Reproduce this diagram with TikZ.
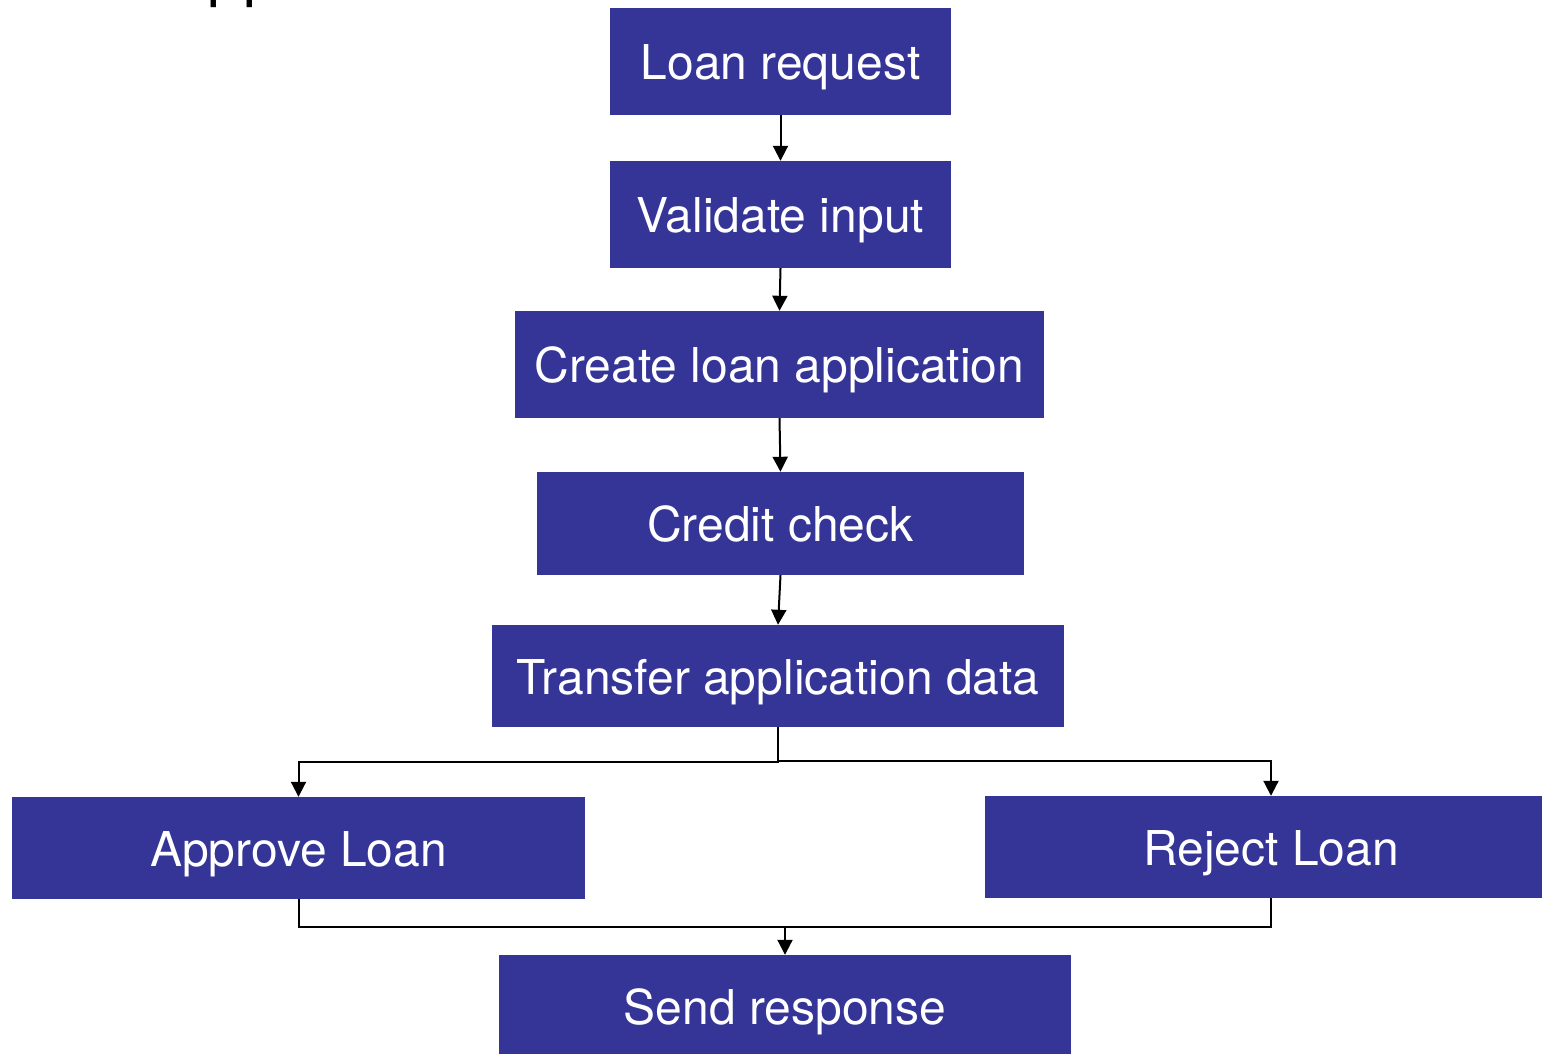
\documentclass[tikz,border=0pt]{standalone}
\usepackage{fontspec}
\setmainfont{TeX Gyre Heros}
\usetikzlibrary{arrows.meta,calc}
\definecolor{boxblue}{RGB}{53,53,152}
\tikzset{
  stepbox/.style={rectangle, fill=boxblue, draw=none, text=white, inner sep=0pt,
    font=\fontsize{48}{56}\selectfont, text height=36.5pt, text depth=0pt, align=center},
  conn/.style={line width=2pt, draw=black},
  arr/.style={conn, -{Triangle[length=15pt,width=15pt]}, shorten >=0pt}
}
\begin{document}
\begin{tikzpicture}[x=1pt,y=-1pt]
\useasboundingbox (0,0) rectangle (1542,1054);
% cut-off title at the top edge (as in the reference)
\node[anchor=base west, inner sep=0pt, font=\fontsize{65}{70}\selectfont] (title) at (207,-6) {pp};
% boxes
\node[stepbox, minimum width=341pt, minimum height=107pt] (req) at (780.5,61.5) {Loan request};
\node[stepbox, minimum width=341pt, minimum height=107pt] (val) at (780.5,214.5) {Validate input};
\node[stepbox, minimum width=529pt, minimum height=107pt] (create) at (779.5,364.5) {Create loan application};
\node[stepbox, minimum width=487pt, minimum height=103pt] (credit) at (780.5,523.5) {Credit check};
\node[stepbox, minimum width=572pt, minimum height=102pt] (transfer) at (778,676) {Transfer application data};
\node[stepbox, minimum width=573pt, minimum height=102pt] (approve) at (298.5,848) {Approve Loan};
\node[stepbox, minimum width=572pt, minimum height=102pt] (reject) at (1271,847) {Reject Loan};
\node[stepbox, minimum width=572pt, minimum height=103pt] (send) at (785,1006.5) {Send response};
% connectors
\draw[arr] (req.south) -- (val.north);
\draw[arr] (val.south) -- (create.north);
\draw[arr] (create.south) -- (credit.north);
\draw[arr] (credit.south) -- (transfer.north);
\draw[arr] (transfer.south) -- ++(0,35) -| (approve.north);
\draw[arr] (transfer.south) -- ++(0,34) -| (reject.north);
\coordinate (join) at ($(send.north)+(0,-28)$);
\draw[conn] (approve.south) |- (join) -| (reject.south);
\draw[arr] (join) -- (send.north);
\end{tikzpicture}
\end{document}
